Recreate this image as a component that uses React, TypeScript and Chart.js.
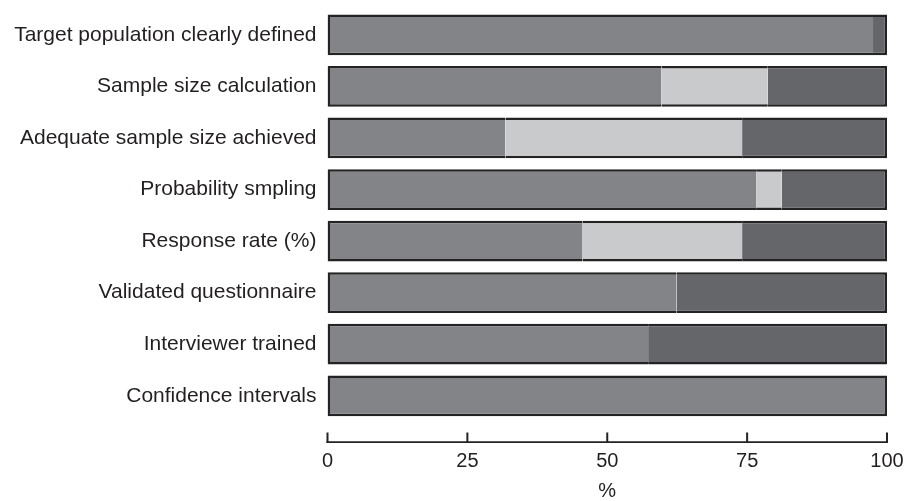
import React, { useEffect, useRef } from 'react';
import { Chart, registerables } from 'chart.js';

Chart.register(...registerables);

const categories = [
  'Target population clearly defined',
  'Sample size calculation',
  'Adequate sample size achieved',
  'Probability smpling',
  'Response rate (%)',
  'Validated questionnaire',
  'Interviewer trained',
  'Confidence intervals',
];
const yesValues = [97.5, 59.7, 31.8, 76.6, 45.6, 62.4, 57.3, 100];
const unclearValues = [0, 19.0, 42.3, 4.6, 28.5, 0, 0, 0];
const noValues = [2.5, 21.3, 25.9, 18.8, 25.9, 37.6, 42.7, 0];
const xTicks = [0, 25, 50, 75, 100];
const xAxisTitle = '%';

const FONT = "'Liberation Sans', Arial, Helvetica, sans-serif";
const TEXT = '#231f20';
const EDGE = '#232323';
const COLORS = ['#838488', '#c9cacc', '#65666a'];

const seriesList = [yesValues, unclearValues, noValues];

function borderFor(ctx: any) {
  const i = ctx.dataIndex;
  const d = ctx.datasetIndex;
  const vals = seriesList.map((s) => s[i]);
  let first = -1;
  let last = -1;
  vals.forEach((v, k) => {
    if (v > 0) {
      if (first < 0) first = k;
      last = k;
    }
  });
  const w = 2.5;
  return { top: w, bottom: w, left: d === first ? w : 0, right: d === last ? w : 0 };
}

const axisPlugin = {
  id: 'bottomAxisLine',
  afterDraw(chart: any) {
    const xs = chart.scales.x;
    const ctx = chart.ctx;
    const y = xs.top + 20.5;
    ctx.save();
    ctx.strokeStyle = EDGE;
    ctx.lineCap = 'butt';
    ctx.lineWidth = 1.6;
    ctx.beginPath();
    ctx.moveTo(xs.getPixelForValue(xTicks[0]) - 1, y);
    ctx.lineTo(xs.getPixelForValue(xTicks[xTicks.length - 1]) + 1, y);
    ctx.stroke();
    ctx.lineWidth = 2;
    ctx.beginPath();
    for (const t of xTicks) {
      const px = xs.getPixelForValue(t);
      ctx.moveTo(px, y + 0.8);
      ctx.lineTo(px, y - 9.5);
    }
    ctx.stroke();
    ctx.restore();
  },
};

export default function App() {
  const ref = useRef<HTMLCanvasElement>(null);

  useEffect(() => {
    if (!ref.current) return;
    const labelsNames = ['Yes', 'Unclear', 'No'];
    const chart = new Chart(ref.current, {
      type: 'bar',
      data: {
        labels: categories,
        datasets: seriesList.map((s, k) => ({
          label: labelsNames[k],
          data: s,
          backgroundColor: COLORS[k],
          borderColor: EDGE,
          borderWidth: borderFor as any,
          borderSkipped: false,
          barPercentage: 0.79,
          categoryPercentage: 1,
        })),
      },
      options: {
        indexAxis: 'y',
        responsive: false,
        animation: false,
        layout: { padding: { top: 9, right: 19, bottom: 0, left: 0 } },
        plugins: {
          legend: { display: false },
          tooltip: { enabled: false },
        },
        scales: {
          x: {
            type: 'linear',
            stacked: true,
            min: 0,
            max: 100,
            afterBuildTicks: (s: any) => {
              s.ticks = xTicks.map((v) => ({ value: v }));
            },
            afterFit: (s: any) => {
              s.height = 79.4;
              s.paddingLeft = 0;
              s.paddingRight = 0;
            },
            grid: { display: false, drawTicks: true, tickLength: 21 },
            border: { display: false },
            ticks: {
              padding: 7,
              color: TEXT,
              font: { family: FONT, size: 20, lineHeight: 1.2 },
            },
            title: {
              display: true,
              text: xAxisTitle,
              color: TEXT,
              font: { family: FONT, size: 20, lineHeight: 1.0 },
              padding: { top: 0, bottom: 0 },
            },
          },
          y: {
            type: 'category',
            stacked: true,
            afterFit: (s: any) => {
              s.width = 327.5;
              s.paddingTop = 0;
              s.paddingBottom = 0;
            },
            grid: { display: false, drawTicks: false },
            border: { display: false },
            ticks: {
              padding: 11,
              color: TEXT,
              font: { family: FONT, size: 21 },
            },
          },
        },
      },
      plugins: [axisPlugin],
    });
    return () => chart.destroy();
  }, []);

  return (
    <div style={{ position: 'fixed', left: 0, top: 0, width: 906, height: 501, background: '#fff' }}>
      <canvas ref={ref} width={906} height={501} style={{ display: 'block', width: 906, height: 501 }} />
    </div>
  );
}
